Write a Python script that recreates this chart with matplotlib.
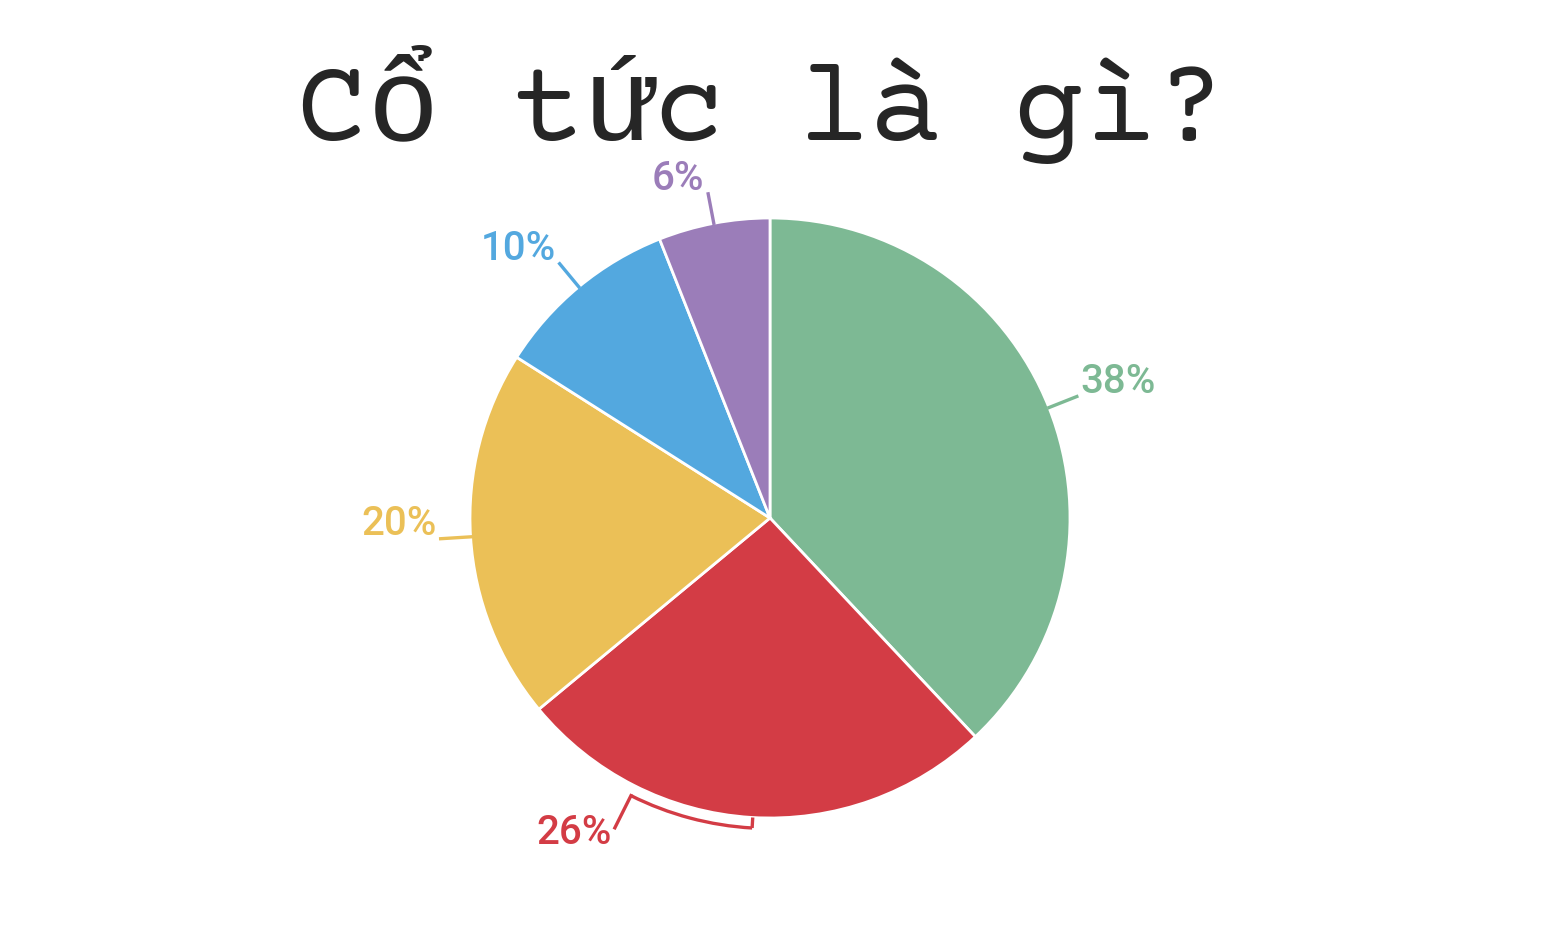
import numpy as np
import matplotlib.pyplot as plt
from matplotlib.patches import Arc

""" Data """
labels = ['38%', '26%', '20%', '10%', '6%']
values = [38, 26, 20, 10, 6]
colors = ['#7DB994', '#D33C45', '#EBC057', '#53A8DF', '#9B7DB9']
title = 'Cổ tức là gì?'

""" Figure """
W, H = 1568, 943
fig = plt.figure(figsize=(W / 100, H / 100), dpi=100)
fig.patch.set_facecolor('white')

# pie centre (770, 518) px, radius 300 px
ax = fig.add_axes([470 / W, (H - 818) / H, 600 / W, 600 / H])
wedges, _ = ax.pie(values, colors=colors, startangle=90, counterclock=False,
                   radius=1, wedgeprops=dict(edgecolor='white', linewidth=2))
ax.set_xlim(-1, 1)
ax.set_ylim(-1, 1)
ax.set_aspect('equal')
ax.axis('off')

lab_font = dict(fontsize=29, fontweight='medium', family=['Roboto', 'DejaVu Sans'])

""" Labels """
for w, lab, c in zip(wedges, labels, colors):
    mid = np.deg2rad((w.theta1 + w.theta2) / 2)
    ux, uy = np.cos(mid), np.sin(mid)
    side = 1 if ux >= 0 else -1
    ha = 'left' if side > 0 else 'right'
    if lab == '26%':
        # bracket along the rim of the bottom slice
        a0 = np.rad2deg(mid) - 23
        a1 = np.rad2deg(mid) + 0.3
        rb = 1.035
        arc = Arc((0, 0), 2 * rb, 2 * rb, theta1=a0, theta2=a1, color=c,
                  lw=2.4, clip_on=False)
        ax.add_patch(arc)
        t1 = np.deg2rad(a1)
        ax.plot([np.cos(t1), rb * np.cos(t1)], [np.sin(t1), rb * np.sin(t1)],
                color=c, lw=2.4, clip_on=False, solid_capstyle='butt')
        t0 = np.deg2rad(a0)
        ex, ey = 1.155 * np.cos(t0), 1.155 * np.sin(t0)
        ax.plot([rb * np.cos(t0), ex], [rb * np.sin(t0), ey], color=c, lw=2.4,
                clip_on=False)
        ax.text(ex - 0.012, ey - 0.017, lab, color=c, ha='right', va='center',
                clip_on=False, **lab_font)
        continue
    ex, ey = 1.1 * ux, 1.1 * uy
    ax.plot([ux, ex], [uy, ey], color=c, lw=2.4, clip_on=False)
    ax.text(ex + side * 0.012, ey + 0.05, lab, color=c, ha=ha, va='center',
            clip_on=False, **lab_font)

""" Title """
fig.text(0.486, 1 - 140 / H, title, ha='center', va='baseline', fontsize=86,
         color='#262626', family=['Courier Prime', 'Liberation Mono', 'DejaVu Sans'])

plt.savefig('out.png', dpi=100, facecolor='white')
